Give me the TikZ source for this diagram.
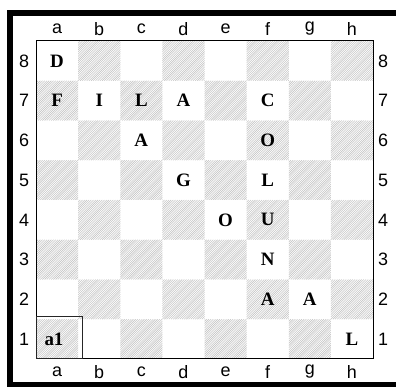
\documentclass[tikz,border=0pt]{standalone}
\usepackage{fontspec}
\setmainfont{Liberation Serif}
\setsansfont{Liberation Sans}
\begin{document}
\begin{tikzpicture}[x=1bp,y=1bp,
  piece/.style={font=\fontsize{19}{19}\selectfont\bfseries, inner sep=0pt},
  lab/.style={font=\sffamily\fontsize{18}{18}\selectfont, inner sep=0pt},
  hatch/.style={draw=gray!45, line width=0.6bp},
  board/.style={draw=black, line width=1.2bp}]
\useasboundingbox (0,0) rectangle (396,387);
\fill[white] (0,0) rectangle (396,387);
\def\bx{36}\def\by{28}\def\cw{42.125}\def\rh{39.75}
% dark squares hatched
\foreach \j in {1,...,8}{
  \foreach \k in {1,3,5,7}{
    \pgfmathsetmacro{\ii}{\k+mod(\j+1,2)}
    \pgfmathsetmacro{\xo}{\bx+(\ii-1)*\cw}
    \pgfmathsetmacro{\yo}{\by+(\j-1)*\rh}
    \begin{scope}
      \clip (\xo,\yo) rectangle ++(\cw,\rh);
      \foreach \t in {-42,-39.8,...,44}{
        \draw[hatch] (\xo+\t,\yo) -- ++(\rh,\rh);
      }
    \end{scope}
  }
}
% board frame
\node[board, minimum width=337bp, minimum height=318bp, inner sep=0pt, anchor=south west] (brd) at (\bx,\by) {};
% a1 highlight
\node[draw=black!85, line width=1.3bp, minimum width=46bp, minimum height=42bp, inner sep=0pt, anchor=south west] (hl) at (\bx,\by) {};
% labels
\foreach \c [count=\i] in {a,b,c,d,e,f,g,h}{
  \node[lab] (top-\c) at ({\bx+(\i-0.5)*\cw},358) {\c};
  \node[lab] (bot-\c) at ({\bx+(\i-0.5)*\cw},15) {\c};
}
\foreach \r in {1,...,8}{
  \node[lab] (left-\r) at (24,{\by+(\r-0.5)*\rh}) {\r};
  \node[lab] (right-\r) at (383,{\by+(\r-0.5)*\rh}) {\r};
}
% pieces
\foreach \t/\c/\r in {D/1/8, F/1/7, I/2/7, L/3/7, A/4/7, C/6/7, A/3/6, O/6/6, G/4/5, L/6/5, O/5/4, U/6/4, N/6/3, A/6/2, A/7/2, L/8/1}{
  \node[piece] (p-\c-\r) at ({\bx+(\c-0.5)*\cw},{\by+(\r-0.5)*\rh}) {\t};
}
\node[piece] (p-a1) at (54,{\by+0.5*\rh}) {a1};
% outer frame
\begin{scope}
\clip (0,0) rectangle (396,387);
\draw[line width=6bp] (10,2) rectangle (404,374);
\end{scope}
\end{tikzpicture}
\end{document}
